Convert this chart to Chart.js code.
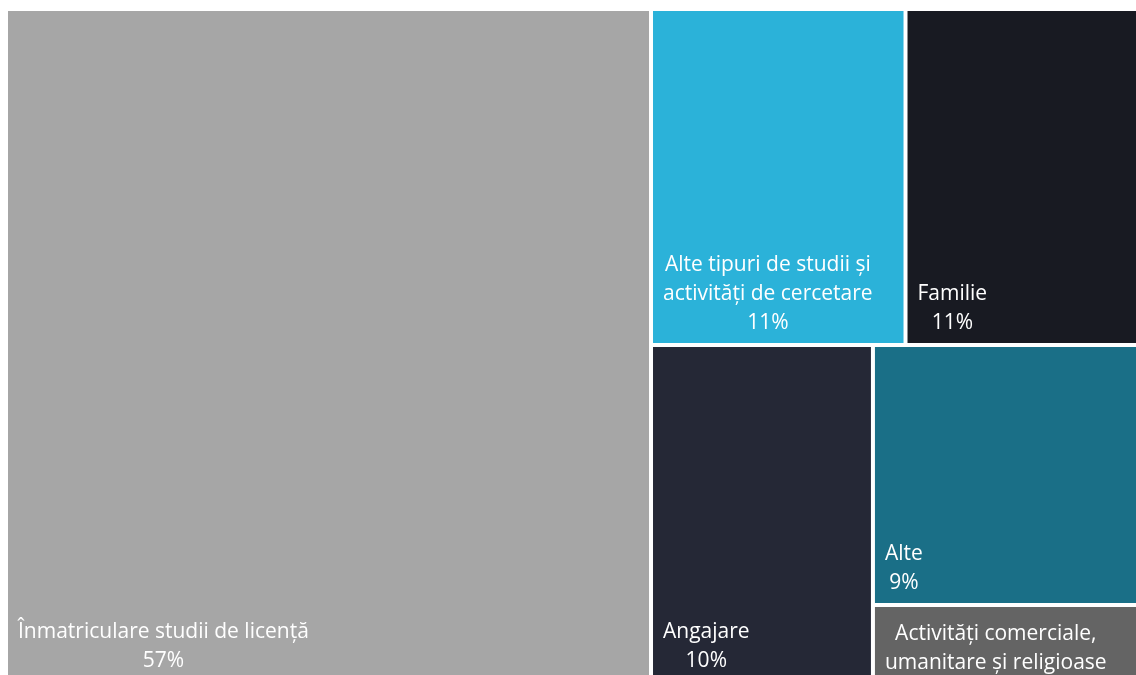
<!DOCTYPE html>
<html lang="ro">

<head>
    <meta charset="UTF-8">
    <title>Treemap</title>
    <script src="https://cdn.jsdelivr.net/npm/chart.js"></script>
    <style>
        html, body {
            margin: 0;
            padding: 0;
            overflow: hidden;
            background: #ffffff;
        }

        .chart-box {
            position: relative;
            width: 1138px;
            height: 690px;
        }
    </style>
</head>

<body>
    <div class="chart-box">
        <canvas id="treemap" width="1138" height="690"></canvas>
    </div>

    <script>
        // category names, one entry per line of the label
        const categories = [
            ['Înmatriculare studii de licență'],
            ['Alte tipuri de studii și', 'activități de cercetare'],
            ['Familie'],
            ['Angajare'],
            ['Alte'],
            ['Activități comerciale,', 'umanitare și religioase']
        ];
        // area of each cell (share of the total, sorted large -> small)
        const values = [56.98, 11.21, 10.24, 9.83, 9.03, 2.71];
        // percentages as printed on the cells
        const shares = ['57%', '11%', '11%', '10%', '9%', '3%'];
        const colors = ['#a6a6a6', '#2bb2d9', '#181a22', '#252836', '#1a6f87', '#646464'];

        // squarified treemap layout, returns rects in units of the given w x h box
        function worst(row, side) {
            const s = row.reduce((a, b) => a + b, 0);
            const mx = Math.max(...row), mn = Math.min(...row);
            return Math.max(side * side * mx / (s * s), s * s / (side * side * mn));
        }

        function squarify(vals, w, h) {
            const total = vals.reduce((a, b) => a + b, 0);
            const areas = vals.map(v => v * w * h / total);
            const rects = [];
            let x = 0, y = 0, rw = w, rh = h, i = 0;
            while (i < areas.length) {
                const side = Math.min(rw, rh);
                const row = [areas[i]];
                let j = i + 1;
                while (j < areas.length && worst(row.concat(areas[j]), side) <= worst(row, side)) {
                    row.push(areas[j]);
                    j++;
                }
                const sum = row.reduce((a, b) => a + b, 0);
                if (rw >= rh) {
                    // column on the left
                    const t = sum / rh;
                    let yy = y;
                    row.forEach(a => {
                        rects.push({ x0: x, y0: yy, x1: x + t, y1: yy + a / t });
                        yy += a / t;
                    });
                    x += t; rw -= t;
                } else {
                    // row along the top
                    const t = sum / rw;
                    let xx = x;
                    row.forEach(a => {
                        rects.push({ x0: xx, y0: y, x1: xx + a / t, y1: y + t });
                        xx += a / t;
                    });
                    y += t; rh -= t;
                }
                i = j;
            }
            return rects;
        }

        // dataset controller that places bar elements as treemap cells
        class SquarifiedController extends Chart.DatasetController {
            update(mode) {
                const meta = this._cachedMeta;
                this.updateElements(meta.data, 0, meta.data.length, mode);
            }

            updateElements(cells, start, count, mode) {
                const { xScale, yScale } = this._cachedMeta;
                const area = this.chart.chartArea;
                const w = area.right - area.left;
                const h = area.bottom - area.top;
                const layout = squarify(this.getDataset().data, w, h);
                for (let i = start; i < start + count; i++) {
                    const r = layout[i];
                    const left = xScale.getPixelForValue(r.x0 / w);
                    const right = xScale.getPixelForValue(r.x1 / w);
                    const top = yScale.getPixelForValue(r.y0 / h);
                    const bottom = yScale.getPixelForValue(r.y1 / h);
                    this.updateElement(cells[i], i, {
                        x: (left + right) / 2,
                        y: top,
                        base: bottom,
                        width: right - left,
                        height: bottom - top,
                        horizontal: false,
                        inflateAmount: 0,
                        borderSkipped: { top: false, bottom: false, left: false, right: false },
                        options: this.resolveDataElementOptions(i, mode)
                    }, mode);
                }
            }
        }
        SquarifiedController.id = 'squarified';
        SquarifiedController.defaults = { datasetElementType: false, dataElementType: 'bar' };
        Chart.register(SquarifiedController);

        const lineGap = 29;

        const cellLabels = {
            id: 'cellLabels',
            afterDatasetsDraw(chart) {
                const ctx = chart.ctx;
                const meta = chart.getDatasetMeta(0);
                ctx.save();
                ctx.font = '21px "Open Sans"';
                ctx.fillStyle = '#ffffff';
                ctx.textAlign = 'center';
                ctx.textBaseline = 'alphabetic';
                meta.data.forEach((cell, i) => {
                    const { x, y, base, width } = cell.getProps(['x', 'y', 'base', 'width'], true);
                    const lines = categories[i].concat(shares[i]);
                    const blockW = Math.max(...lines.map(l => ctx.measureText(l).width));
                    const cx = x - width / 2 + 12 + blockW / 2;
                    let first = base - 16 - (lines.length - 1) * lineGap;
                    if (first < y + 30) first = y + 35;
                    lines.forEach((l, k) => ctx.fillText(l, cx, first + k * lineGap));
                });
                ctx.restore();
            }
        };

        new Chart(document.getElementById('treemap'), {
            type: 'squarified',
            data: {
                datasets: [{
                    data: values,
                    backgroundColor: colors,
                    borderColor: '#ffffff',
                    borderWidth: 2
                }]
            },
            options: {
                responsive: false,
                animation: false,
                events: [],
                layout: { padding: { left: 6, top: 9, right: 0, bottom: 7 } },
                scales: {
                    x: { type: 'linear', min: 0, max: 1, display: false },
                    y: { type: 'linear', min: 0, max: 1, reverse: true, display: false }
                },
                plugins: {
                    legend: { display: false },
                    tooltip: { enabled: false }
                }
            },
            plugins: [cellLabels]
        });
    </script>
</body>

</html>
